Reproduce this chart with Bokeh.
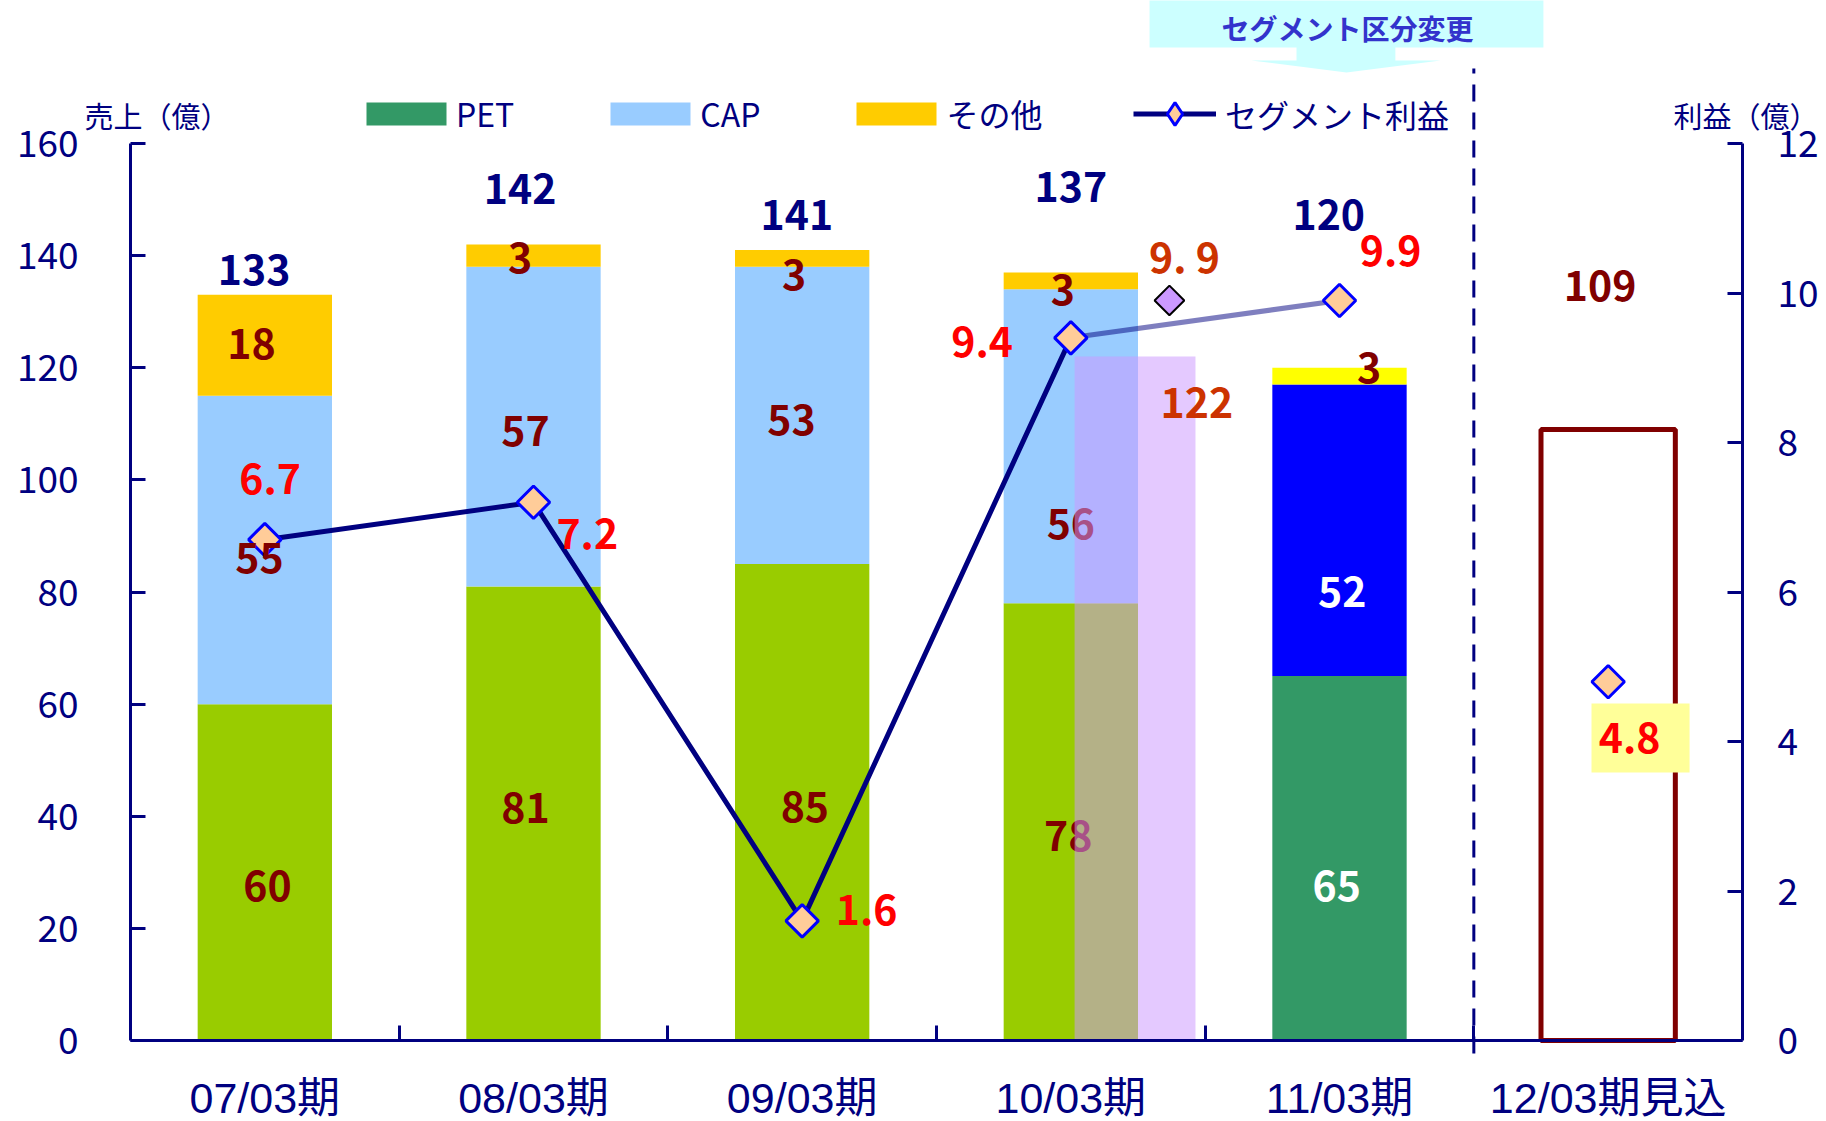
import numpy as np
from bokeh.plotting import figure
from bokeh.models import (Range1d, LinearAxis, FixedTicker, Legend, LegendItem, Label,
                          CustomJSTickFormatter)
from bokeh.core.properties import value
from bokeh.embed import file_html
from bokeh.resources import INLINE

# ---------------- data ----------------
periods = ["07/03期", "08/03期", "09/03期", "10/03期", "11/03期", "12/03期見込"]
pet = [60, 81, 85, 78, 65]            # PET segment sales (億)
cap = [55, 57, 53, 56, 52]            # CAP segment sales
other = [18, 3, 3, 3, 3]              # その他
totals = [133, 142, 141, 137, 120]    # total sales
forecast_total = [109]                # 12/03期見込 sales
profit = [6.7, 7.2, 1.6, 9.4, 9.9]    # セグメント利益 (億)
forecast_profit = [4.8]
restated_total = [122]                # 10/03期 restated (new segments)
restated_profit = [9.9]

left_ticks = [0, 20, 40, 60, 80, 100, 120, 140, 160]
right_ticks = [0, 2, 4, 6, 8, 10, 12]

# ---------------- label placement (offset from category centre, y on sales axis) -----
pet_lab_dx = [0.01, -0.03, 0.01, -0.01, -0.01]
pet_lab_y = [27.6, 41.4, 41.7, 36.4, 27.6]
cap_lab_dx = [-0.02, -0.03, -0.04, 0.0, 0.01]
cap_lab_y = [86.0, 108.8, 110.7, 92.2, 80.0]
oth_lab_dx = [-0.05, -0.05, -0.03, -0.03, 0.11]
oth_lab_y = [124.2, 139.5, 136.5, 133.8, 120.0]
tot_lab_dx = [-0.04, -0.05, -0.02, 0.0, -0.04, -0.03]
tot_lab_y = [137.4, 151.8, 147.2, 152.2, 147.2, 134.6]
prof_lab_dx = [0.02, 0.20, 0.24, -0.33, 0.19, 0.08]
prof_lab_y = [100.2, 90.4, 23.3, 124.6, 140.9, 53.9]

# ---------------- styles / geometry ----------------
NAVY = "#000080"
DRED = "#800000"
FONT = "Noto Sans CJK JP"
W, H = 1826, 1121
FL, FR, FB = 130, 1742, 1040    # plot-area left / right / bottom on the page (px)
TOP_TICK_PX = 143               # page y of the 160 / 12 ticks
n = len(periods)
PXU = (FR - FL) / n                     # px per category
PXY = (FB - TOP_TICK_PX) / 160          # px per 億 (sales)
PXR = (FB - TOP_TICK_PX) / 12           # px per 億 (profit)


def py(v):
    """page pixel row -> sales-axis value (for decorations outside the bars)"""
    return (FB - v) / PXY


xc = np.arange(n) + 0.5
pet_a = np.array(pet, float)
cap_a = np.array(cap, float)
tot_a = np.array(totals, float)
cap_top = pet_a + cap_a

# one canvas; axes are pinned with fixed_location so titles/legend share the same surface
p = figure(width=W, height=H,
           x_range=Range1d(-FL / PXU, (W - FL) / PXU),
           y_range=Range1d(-(H - FB) / PXY, FB / PXY),
           output_backend="svg", toolbar_location=None, title=None,
           min_border=0, min_border_left=0, min_border_right=0, min_border_top=0,
           min_border_bottom=0, outline_line_color=None)
p.extra_y_ranges = {"profit": Range1d(-(H - FB) / PXR, FB / PXR)}
p.grid.visible = False
p.background_fill_color = "white"
p.border_fill_color = "white"

# ---------------- axes ----------------
xa = p.xaxis[0]
xa.fixed_location = 0
xa.bounds = (0, n)
xa.ticker = FixedTicker(ticks=list(xc), minor_ticks=list(np.arange(1, n)))
xa.formatter = CustomJSTickFormatter(args=dict(labels=periods),
                                     code="const i = Math.floor(tick); return labels[i] || '';")
xa.major_tick_in = 0
xa.major_tick_out = 0
xa.minor_tick_in = 15
xa.minor_tick_out = 0
xa.minor_tick_line_color = NAVY
xa.minor_tick_line_width = 3
xa.axis_line_color = NAVY
xa.axis_line_width = 3
xa.major_label_text_font = "Liberation Sans, Noto Sans CJK JP"
xa.major_label_text_font_size = "43px"
xa.major_label_text_color = NAVY
xa.major_label_standoff = 33

ya = p.yaxis[0]
ya.fixed_location = 0
ya.ticker = FixedTicker(ticks=left_ticks)
ya.bounds = (0, 160)
ya.major_tick_in = 15
ya.major_tick_out = 0
ya.minor_tick_line_color = None
ya.major_tick_line_color = NAVY
ya.major_tick_line_width = 3
ya.axis_line_color = NAVY
ya.axis_line_width = 3
ya.major_label_text_font = FONT
ya.major_label_text_font_size = "37px"
ya.major_label_text_color = NAVY
ya.major_label_standoff = 52

ra = LinearAxis(y_range_name="profit", ticker=FixedTicker(ticks=right_ticks), bounds=(0, 12),
                fixed_location=n)
ra.major_tick_in = 15
ra.major_tick_out = 0
ra.minor_tick_line_color = None
ra.major_tick_line_color = NAVY
ra.major_tick_line_width = 3
ra.axis_line_color = NAVY
ra.axis_line_width = 3
ra.major_label_text_font = FONT
ra.major_label_text_font_size = "37px"
ra.major_label_text_color = NAVY
ra.major_label_standoff = 35
p.add_layout(ra, "right")

# ---------------- header callout ----------------
p.quad(left=[3.793], right=[5.259], bottom=[py(47)], top=[py(-5)], fill_color="#CCFFFF",
       line_color=None)
p.patch(x=[4.340, 4.340, 4.172, 4.526, 4.876, 4.708, 4.708],
        y=[py(v) for v in (46, 60, 60, 72, 60, 60, 46)], fill_color="#CCFFFF", line_color=None)
p.add_layout(Label(x=4.53, y=py(27.5), text="セグメント区分変更", text_font=FONT,
                   text_font_size="28px", text_font_style="bold", text_color="#3333CC",
                   text_align="center", text_baseline="middle"))

# segment-change divider at the boundary before the forecast
p.segment(x0=[n - 1], y0=[py(1053)], x1=[n - 1], y1=[py(68)], line_color=NAVY, line_width=3,
          line_dash="17 11")

# ---------------- bars ----------------
old = slice(0, 4)
new = slice(4, 5)
r_pet_old = p.vbar(x=xc[old], width=0.5, bottom=0, top=pet_a[old], fill_color="#99CC00", line_color=None)
r_cap_old = p.vbar(x=xc[old], width=0.5, bottom=pet_a[old], top=cap_top[old], fill_color="#99CCFF", line_color=None)
r_oth_old = p.vbar(x=xc[old], width=0.5, bottom=cap_top[old], top=tot_a[old], fill_color="#FFCC00", line_color=None)
r_pet_new = p.vbar(x=xc[new], width=0.5, bottom=0, top=pet_a[new], fill_color="#339966", line_color=None)
r_cap_new = p.vbar(x=xc[new], width=0.5, bottom=pet_a[new], top=cap_top[new], fill_color="#0000FF", line_color=None)
r_oth_new = p.vbar(x=xc[new], width=0.5, bottom=cap_top[new], top=tot_a[new], fill_color="#FFFF00", line_color=None)
p.vbar(x=xc[5:6], width=0.5, bottom=0, top=forecast_total, fill_color=None, line_color=DRED, line_width=5)

# ---------------- profit line ----------------
r_line = p.line(x=xc[0:4], y=profit[0:4], line_color=NAVY, line_width=5, y_range_name="profit")
p.line(x=xc[3:5], y=profit[3:5], line_color=NAVY, line_alpha=0.5, line_width=5, y_range_name="profit")
p.scatter(x=xc, y=profit + forecast_profit, marker="square", angle=np.pi / 4, size=23,
          fill_color="#FFCC99", line_color="#0000FF", line_width=3, y_range_name="profit")


def txt(xs, ys, texts, color, size="41px"):
    p.text(x=list(xs), y=list(ys), text=list(texts), text_font=value(FONT),
           text_font_size=value(size), text_font_style="bold", text_color=color,
           text_align="center", text_baseline="middle")


txt(xc[:5] + np.array(pet_lab_dx), pet_lab_y, [str(v) for v in pet], [DRED] * 4 + ["white"])
txt(xc[:5] + np.array(cap_lab_dx), cap_lab_y, [str(v) for v in cap], [DRED] * 4 + ["white"])
txt(xc[:5] + np.array(oth_lab_dx), oth_lab_y, [str(v) for v in other], DRED)

# restated 10/03 overlay (drawn over the labels)
ri = 3
p.vbar(x=[xc[ri] + 0.239], width=0.45, bottom=0, top=restated_total, fill_color="#CC99FF",
       fill_alpha=0.53, line_color=None)
p.scatter(x=[xc[ri] + 0.367], y=restated_profit, marker="square", angle=np.pi / 4, size=21,
          fill_color="#CC99FF", line_color="black", line_width=2, y_range_name="profit")
txt([xc[ri] + 0.469], [113.8], [str(v) for v in restated_total], "#CC3300")
txt([xc[ri] + 0.423], [140.1], [f"{v:.1f}".replace('.', '. ') for v in restated_profit], "#CC3300")

# totals
txt(xc + np.array(tot_lab_dx), tot_lab_y, [str(v) for v in totals + forecast_total],
    [NAVY] * 5 + [DRED])

# profit labels
p.quad(left=[5.438], right=[5.803], bottom=[47.8], top=[60.1], fill_color="#FFFF99", line_color=None)
txt(xc + np.array(prof_lab_dx), prof_lab_y, [f"{v:.1f}" for v in profit + forecast_profit], "#FF0000")

# ---------------- legends ----------------
# legend-only glyphs, placed outside the visible canvas
off_x, off_lo, off_hi = [-5.0], [-60.0], [-50.0]
g_pet = p.vbar(x=off_x, width=0.5, bottom=off_lo, top=off_hi, fill_color="#339966", line_color=None)
g_cap = p.vbar(x=off_x, width=0.5, bottom=off_lo, top=off_hi, fill_color="#99CCFF", line_color=None)
g_oth = p.vbar(x=off_x, width=0.5, bottom=off_lo, top=off_hi, fill_color="#FFCC00", line_color=None)
g_line = p.line(x=[-5.0, -4.0], y=[-50.0, -50.0], line_color=NAVY, line_width=5)
g_mark = p.scatter(x=off_x, y=off_hi, marker="diamond", size=23, fill_color="#FFCC99",
                   line_color="#0000FF", line_width=3)

common = dict(orientation="horizontal", padding=0, margin=0, background_fill_alpha=0,
              border_line_color=None, label_text_font=FONT, label_text_font_size="32px",
              label_text_color=NAVY)
legA = Legend(items=[LegendItem(label="PET", renderers=[g_pet]),
                     LegendItem(label="CAP", renderers=[g_cap]),
                     LegendItem(label="その他", renderers=[g_oth])],
              location=(356, H - 136), glyph_width=100, glyph_height=29, label_standoff=0,
              spacing=86, **common)
legB = Legend(items=[LegendItem(label="セグメント利益", renderers=[g_line, g_mark])],
              location=(1133, H - 142), glyph_width=83, glyph_height=57, label_standoff=9,
              **common)
p.add_layout(legA)
p.add_layout(legB)

# axis titles
p.add_layout(Label(x=-46 / PXU, y=py(114), text="売上（億）", text_font=FONT, text_font_size="29px",
                   text_color=NAVY, text_align="left", text_baseline="middle"))
p.add_layout(Label(x=(1673 - FL) / PXU, y=py(114), text="利益（億）", text_font=FONT,
                   text_font_size="29px", text_color=NAVY, text_align="left",
                   text_baseline="middle"))

open("out.html", "w").write(file_html(p, INLINE))
